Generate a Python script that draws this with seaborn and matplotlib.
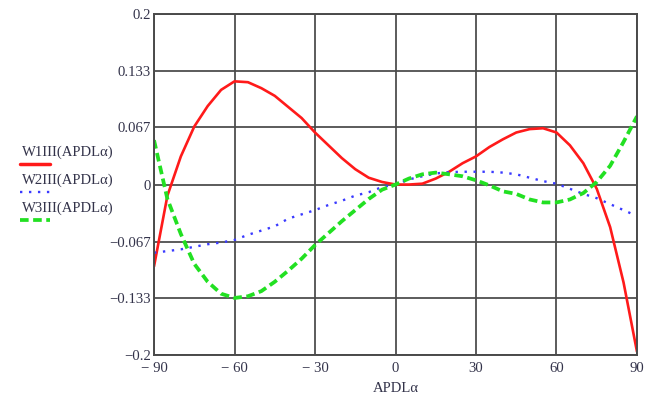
import numpy as np
import pandas as pd
import matplotlib
matplotlib.use('Agg')
import matplotlib.pyplot as plt
from matplotlib.lines import Line2D
import seaborn as sns

sns.set_style('white')
plt.rcParams['font.family'] = ['Liberation Serif', 'DejaVu Serif']

# angle APDL alpha, degrees
alpha = [-90, -85, -80, -75, -70, -65, -60, -55, -50, -45, -40, -35, -30, -25, -20, -15, -10, -5,
         0, 5, 10, 15, 20, 25, 30, 35, 40, 45, 50, 55, 60, 65, 70, 75, 80, 85, 90]

w1 = [-0.096, -0.013, 0.033, 0.068, 0.092, 0.111, 0.121, 0.120, 0.113, 0.104, 0.091, 0.078,
      0.061, 0.046, 0.031, 0.018, 0.008, 0.003, 0.0, 0.0, 0.001, 0.007, 0.015, 0.025, 0.033,
      0.044, 0.053, 0.061, 0.065, 0.066, 0.061, 0.046, 0.025, -0.005, -0.050, -0.115, -0.196]

w2 = [-0.080, -0.078, -0.076, -0.073, -0.070, -0.068, -0.065, -0.059, -0.054, -0.049, -0.040,
      -0.035, -0.030, -0.024, -0.019, -0.013, -0.009, -0.003, 0.0, 0.006, 0.0097, 0.013, 0.0145,
      0.015, 0.015, 0.015, 0.014, 0.012, 0.008, 0.004, 0.001, -0.005, -0.011, -0.016, -0.023,
      -0.030, -0.037]

w3 = [0.052, -0.017, -0.058, -0.093, -0.114, -0.128, -0.133, -0.131, -0.125, -0.114, -0.101,
      -0.087, -0.071, -0.057, -0.043, -0.030, -0.017, -0.006, 0.0, 0.007, 0.012, 0.014, 0.012,
      0.0097, 0.005, -0.001, -0.008, -0.011, -0.0175, -0.021, -0.021, -0.0175, -0.010, 0.003,
      0.022, 0.050, 0.080]

names = ['W1III(APDL\u03b1)', 'W2III(APDL\u03b1)', 'W3III(APDL\u03b1)']
colors = ['#ff1a1a', '#3a3aff', '#22e022']

xticks = [-90, -60, -30, 0, 30, 60, 90]
xlabels = ['\u2212 90', '\u2212 60', '\u2212 30', '0', '30', '60', '90']
yticks = [-0.2, -0.133, -0.067, 0, 0.067, 0.133, 0.2]
ylabels = ['\u22120.2', '\u22120.133', '\u22120.067', '0', '0.067', '0.133', '0.2']

df = pd.DataFrame({'alpha': alpha, 'w1': w1, 'w2': w2, 'w3': w3})

fig = plt.figure(figsize=(6.54, 3.99), dpi=100)
ax = fig.add_axes([0.2355, 0.110, 0.7385, 0.855])

blue_ls = (0, (1, 2.8))
green_ls = (0, (2.3, 1.2))
fs = 10.6

sns.lineplot(data=df, x='alpha', y='w1', ax=ax, color=colors[0], lw=1.9)
sns.lineplot(data=df, x='alpha', y='w2', ax=ax, color=colors[1], lw=1.7, linestyle=blue_ls)
sns.lineplot(data=df, x='alpha', y='w3', ax=ax, color=colors[2], lw=2.7, linestyle=green_ls)

ax.set_xlim(-90, 90)
ax.set_ylim(-0.2, 0.2)
ax.set_xticks(xticks)
ax.set_xticklabels(xlabels)
ax.set_yticks(yticks)
ax.set_yticklabels(ylabels)
ax.tick_params(axis='both', length=0, labelsize=fs, colors='#33334a')
ax.tick_params(axis='x', pad=5)
ax.tick_params(axis='y', pad=2)
ax.grid(True, color='#4a4a4a', lw=1.4, alpha=0.9)
ax.set_axisbelow(True)
for s in ax.spines.values():
    s.set_color('#4a4a4a')
    s.set_linewidth(1.4)
ax.set_xlabel('APDL\u03b1', fontsize=fs, color='#33334a', labelpad=5)
ax.set_ylabel('')

# legend at the left, label above its line sample
text_y = [152, 180, 208]
line_y = [164, 192, 220]
styles = ['-', blue_ls, green_ls]
widths = [2.5, 1.7, 2.7]
for i in range(3):
    fig.text(22 / 654, 1 - text_y[i] / 399, names[i], fontsize=fs, color='#33334a',
             va='center', ha='left')
    fig.add_artist(Line2D([20 / 654, 50 / 654], [1 - line_y[i] / 399] * 2,
                          color=colors[i], lw=widths[i], linestyle=styles[i],
                          transform=fig.transFigure))

fig.savefig('out.png', dpi=100)
